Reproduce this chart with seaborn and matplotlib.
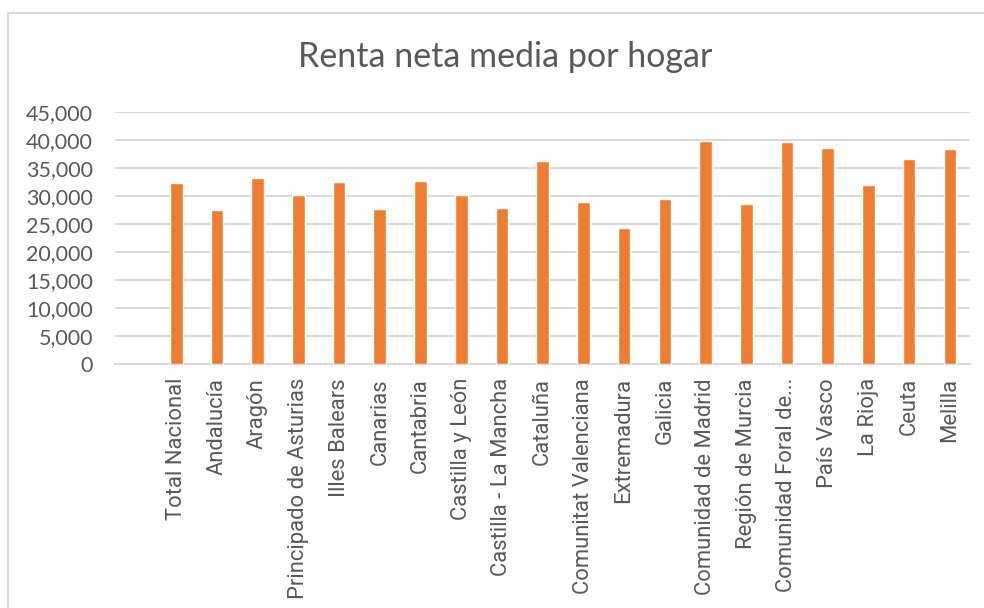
import matplotlib
matplotlib.use('Agg')
import matplotlib.pyplot as plt
import seaborn as sns
import pandas as pd
from matplotlib.patches import Rectangle
from matplotlib.ticker import FuncFormatter

# datos
regiones = [
    "Total Nacional", "Andalucía", "Aragón", "Principado de Asturias",
    "Illes Balears", "Canarias", "Cantabria", "Castilla y León",
    "Castilla - La Mancha", "Cataluña", "Comunitat Valenciana", "Extremadura",
    "Galicia", "Comunidad de Madrid", "Región de Murcia", "Comunidad Foral de...",
    "País Vasco", "La Rioja", "Ceuta", "Melilla",
]
renta = [
    32240, 27470, 33130, 30150, 32420, 27590, 32660, 30150,
    27770, 36170, 28960, 24310, 29440, 39810, 28610, 39630,
    38560, 31880, 36530, 38380,
]
y_ticks = list(range(0, 45001, 5000))

df = pd.DataFrame({'region': regiones, 'renta': renta})

COL_BAR = '#ED7D31'
COL_GRID = '#D9D9D9'
COL_TEXT = '#595959'

sns.set_theme(style='white')
plt.rcParams['font.family'] = ['Lato', 'DejaVu Sans']

fig = plt.figure(figsize=(9.84, 6.08), dpi=100, facecolor='white')
ax = fig.add_axes([0.117, 0.401, 0.869, 0.415])

sns.barplot(data=df, x='region', y='renta', color=COL_BAR, width=0.31,
            saturation=1, ax=ax, zorder=3)

ax.set_xlim(-1.5, len(regiones) - 0.5)
ax.set_ylim(0, 45000)
ax.set_yticks(y_ticks)
ax.yaxis.set_major_formatter(FuncFormatter(lambda v, p: f'{int(v):,}'))
ax.grid(axis='y', color=COL_GRID, linewidth=1.5, zorder=0)
ax.grid(axis='x', visible=False)
for s in ['top', 'right', 'left']:
    ax.spines[s].set_visible(False)
ax.spines['bottom'].set_color(COL_GRID)
ax.spines['bottom'].set_linewidth(1.5)
ax.set_xlabel('')
ax.set_ylabel('')
ax.tick_params(axis='y', length=0, pad=16, labelsize=15.5, labelcolor=COL_TEXT)
ax.tick_params(axis='x', length=0, pad=10, labelsize=15.8, labelcolor=COL_TEXT)
for lbl in ax.get_xticklabels():
    lbl.set_rotation(90)
    lbl.set_fontfamily(['Roboto', 'DejaVu Sans'])

fig.text(0.513, 0.906, 'Renta neta media por hogar', ha='center', va='center',
         fontsize=24.5, color=COL_TEXT)

# marco del gráfico
fig.patches.append(Rectangle((8 / 984, -0.01), 1.0, 1 - 13 / 608 + 0.01,
                             transform=fig.transFigure, fill=False,
                             edgecolor=COL_GRID, linewidth=1.5))

fig.savefig('out.png', dpi=100, facecolor='white')
